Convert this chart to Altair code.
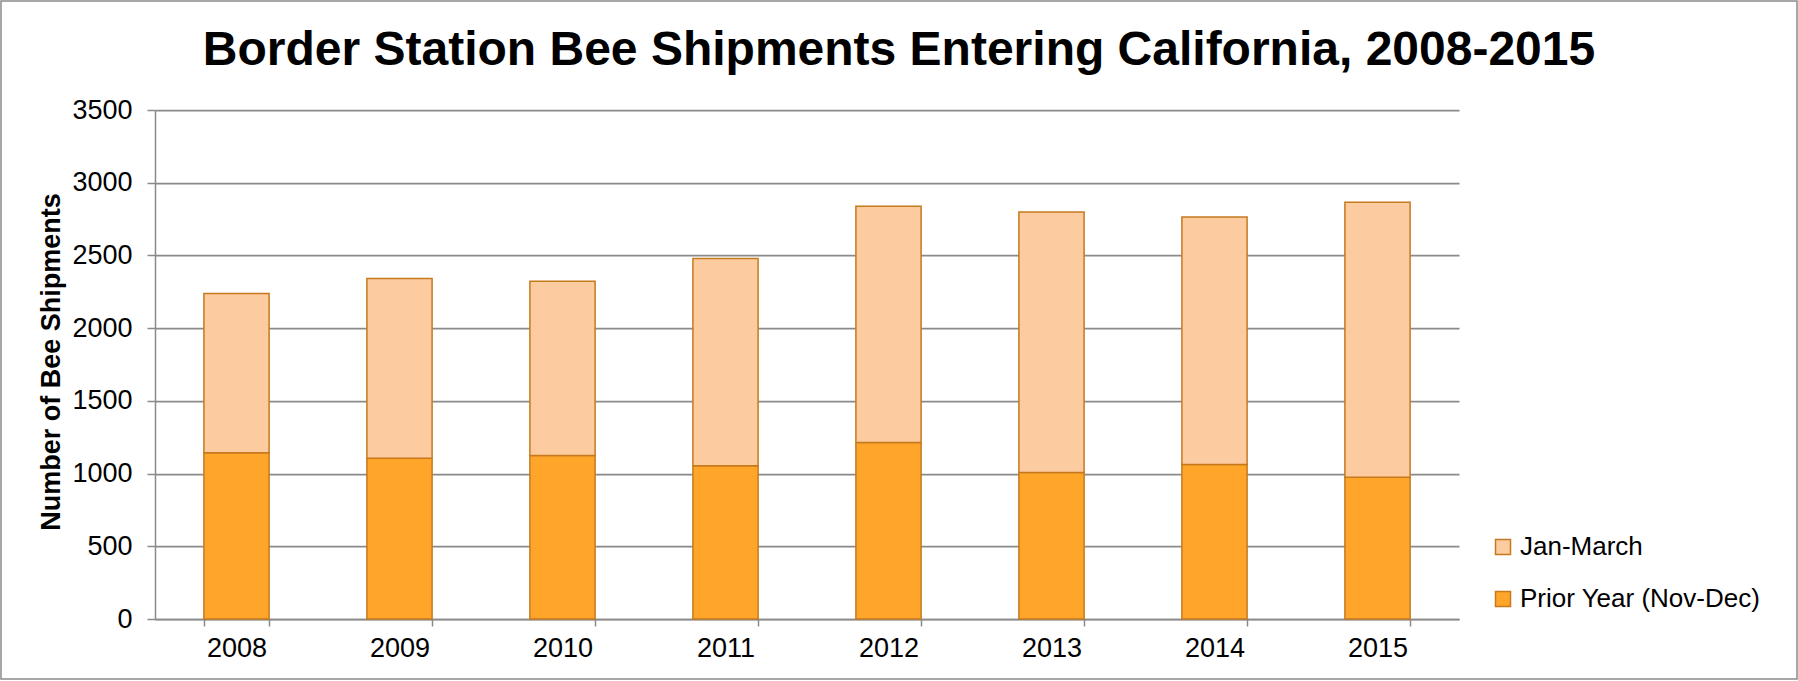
import altair as alt
import pandas as pd

years = ["2008", "2009", "2010", "2011", "2012", "2013", "2014", "2015"]
prior_year = [1144, 1105, 1124, 1053, 1213, 1007, 1062, 975]
jan_march = [1094, 1237, 1199, 1426, 1626, 1791, 1702, 1890]
series = ["Jan-March", "Prior Year (Nov-Dec)"]
series_colors = ["#FDCBA0", "#FFA62A"]
y_ticks = [0, 500, 1000, 1500, 2000, 2500, 3000, 3500]
title_text = "Border Station Bee Shipments Entering California, 2008-2015"
y_title = "Number of Bee Shipments"

rows = []
for i, yr in enumerate(years):
    rows.append({"Year": yr, "Series": series[1], "Value": prior_year[i], "Order": 0})
    rows.append({"Year": yr, "Series": series[0], "Value": jan_march[i], "Order": 1})
df = pd.DataFrame(rows)

FONT = "Liberation Sans"
GRAY = "#8a8a8a"
EDGE = "#C57A1E"

bars = alt.Chart(df).mark_bar(stroke=EDGE, strokeWidth=1.5).encode(
    x=alt.X(
        "Year:N",
        sort=years,
        scale=alt.Scale(paddingInner=0.6, paddingOuter=0.3),
        axis=alt.Axis(
            title=None, labelAngle=0, labelFont=FONT, labelFontSize=27,
            labelColor="#000000", labelPadding=9, tickBand="extent",
            tickSize=7, tickColor=GRAY, tickWidth=1.5,
            domainColor=GRAY, domainWidth=1.5, grid=False,
        ),
    ),
    y=alt.Y(
        "Value:Q",
        stack="zero",
        scale=alt.Scale(domain=[0, 3500], nice=False),
        axis=alt.Axis(
            title=None, values=y_ticks, format="d", labelFont=FONT,
            labelFontSize=27, labelColor="#000000", labelPadding=15,
            tickSize=8, tickColor=GRAY, tickWidth=1.5, domainColor=GRAY,
            domainWidth=1.5, grid=True, gridColor=GRAY, gridWidth=1.75,
        ),
    ),
    color=alt.Color(
        "Series:N",
        scale=alt.Scale(domain=series, range=series_colors),
        legend=alt.Legend(
            title=None, orient="none", legendX=1335, legendY=424,
            symbolType="square", symbolSize=225, symbolStrokeColor=EDGE,
            symbolStrokeWidth=1.5, labelFont=FONT, labelFontSize=26,
            labelColor="#000000", labelOffset=4, rowPadding=26,
            labelLimit=400,
        ),
    ),
    order=alt.Order("Order:Q"),
)

deco = pd.DataFrame({"t": [title_text], "yt": [y_title]})

title_mark = alt.Chart(deco).mark_text(
    font=FONT, fontSize=48, fontWeight="bold", align="center",
    baseline="alphabetic", color="#000000",
).encode(x=alt.value(744), y=alt.value(-45), text="t:N")

ytitle_mark = alt.Chart(deco).mark_text(
    font=FONT, fontSize=27, fontWeight="bold", align="center",
    baseline="middle", angle=270, color="#000000",
).encode(x=alt.value(-103), y=alt.value(252), text="yt:N")

border = alt.Chart(deco).mark_rect(
    fill=None, stroke=GRAY, strokeWidth=1.5,
).encode(
    x=alt.value(-154), x2=alt.value(1642), y=alt.value(-109), y2=alt.value(569)
)

chart = alt.layer(border, bars, title_mark, ytitle_mark).properties(
    width=1304, height=509,
    autosize=alt.AutoSizeParams(type="none"),
    padding={"left": 155, "top": 110, "right": 339, "bottom": 62},
    background="#ffffff",
).configure_view(stroke=None)

chart.save("out.html", embed_options={"renderer": "svg", "actions": False})
